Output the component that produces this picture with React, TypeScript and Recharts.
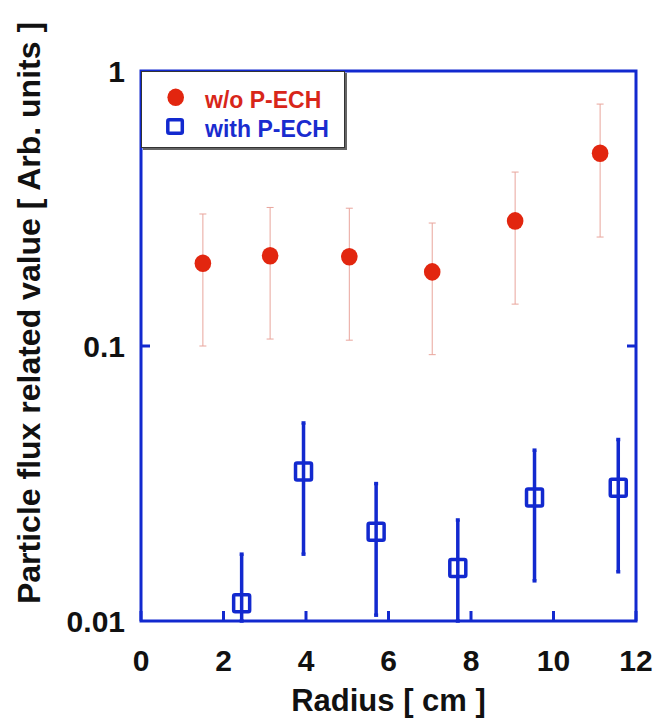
import React from 'react';
import { ScatterChart, Scatter, XAxis, YAxis, ErrorBar, ReferenceArea, Legend } from 'recharts';

// w/o P-ECH (red dots)
const radiusWithout = [1.5, 3.13, 5.05, 7.06, 9.07, 11.13];
const fluxWithout = [0.2, 0.213, 0.211, 0.186, 0.285, 0.502];
const lowWithout = [0.1, 0.106, 0.105, 0.093, 0.142, 0.249];
const highWithout = [0.302, 0.319, 0.317, 0.28, 0.429, 0.758];

// with P-ECH (blue squares)
const radiusWith = [2.44, 3.94, 5.7, 7.68, 9.54, 11.57];
const fluxWith = [0.0116, 0.035, 0.0211, 0.0156, 0.0281, 0.0305];
const lowWith = [0.01, 0.0175, 0.0105, 0.01, 0.014, 0.0151];
const highWith = [0.0175, 0.0525, 0.0316, 0.0233, 0.0418, 0.0457];

const xTicks = [0, 2, 4, 6, 8, 10, 12];
const yTicks = [0.01, 0.1, 1];

const BLUE = '#1229cf';
const RED = '#e2260f';
const RED_BAR = '#e9a59c';
const FONT = '"Liberation Sans", Arial, Helvetica, sans-serif';

const toRows = (rs: number[], vs: number[], lo: number[], hi: number[]) =>
  rs.map((r, i) => ({ r, v: vs[i], err: [vs[i] - lo[i], hi[i] - vs[i]] }));

const withoutData = toRows(radiusWithout, fluxWithout, lowWithout, highWithout);
const withData = toRows(radiusWith, fluxWith, lowWith, highWith);

// inward tick marks + label under the axis
function XTick({ x, y, payload }: any) {
  return (
    <g>
      <line x1={x} y1={y} x2={x} y2={y - 10} stroke={BLUE} strokeWidth={3} />
      <text x={x} y={y + 50} textAnchor="middle" fontFamily={FONT} fontWeight="bold" fontSize={30} fill="#111">
        {payload.value}
      </text>
    </g>
  );
}

function YTickLeft({ x, y, payload }: any) {
  return (
    <g>
      {payload.value === 0.1 && <line x1={x} y1={y} x2={x + 9} y2={y} stroke={BLUE} strokeWidth={3} />}
      <text x={x - 16} y={y} dy="0.36em" textAnchor="end" fontFamily={FONT} fontWeight="bold" fontSize={30} fill="#111">
        {payload.value}
      </text>
    </g>
  );
}

function YTickRight({ x, y, payload }: any) {
  if (payload.value !== 0.1) return <g />;
  return <line x1={x} y1={y} x2={x - 9} y2={y} stroke={BLUE} strokeWidth={3} />;
}

function XTitle({ viewBox }: any) {
  const { x, y, width } = viewBox;
  return (
    <text x={x + width / 2} y={y + 90} textAnchor="middle" fontFamily={FONT} fontWeight="bold" fontSize={31} fill="#111">
      Radius [ cm ]
    </text>
  );
}

function YTitle({ viewBox }: any) {
  const { x, y, width, height } = viewBox;
  const tx = x + width - 101;
  const ty = y + height / 2 - 33;
  return (
    <text x={tx} y={ty} transform={`rotate(-90 ${tx} ${ty})`} textAnchor="middle" fontFamily={FONT} fontWeight="bold" fontSize={32} fill="#111">
      Particle flux related value [ Arb. units ]
    </text>
  );
}

function LegendBox() {
  return (
    <div style={{ width: 204, height: 77, background: '#fff', border: '1px solid #333', boxShadow: '2px 2px 0 #666', boxSizing: 'border-box' }}>
      <svg width={202} height={75} style={{ display: 'block' }}>
        <ellipse cx={33.7} cy={25.3} rx={8.3} ry={8.7} fill={RED} />
        <text x={63} y={27.5} dy="0.36em" fontFamily={FONT} fontWeight="bold" fontSize={23} fill="#d8261a">
          w/o P-ECH
        </text>
        <rect x={25.8} y={47.8} width={14.5} height={13.5} rx={1.5} fill="none" stroke={BLUE} strokeWidth={3.5} />
        <text x={63} y={57} dy="0.36em" fontFamily={FONT} fontWeight="bold" fontSize={23} fill="#1a2ccf">
          with P-ECH
        </text>
      </svg>
    </div>
  );
}

const RedDot = (p: any) => <ellipse cx={p.cx} cy={p.cy} rx={8.3} ry={8.8} fill={RED} />;
const BlueSquare = (p: any) => (
  <rect x={p.cx - 8} y={p.cy - 8.5} width={16} height={17} rx={1.5} fill="none" stroke={BLUE} strokeWidth={3.5} />
);

export default function App() {
  return (
    <div style={{ position: 'absolute', left: 0, top: 0, background: '#fff' }}>
      <ScatterChart width={660} height={724} margin={{ top: 71, right: 23, bottom: 102, left: 140 }}>
        <ReferenceArea x1={0} x2={12} y1={0.01} y2={1} fill="none" stroke={BLUE} strokeWidth={3} ifOverflow="visible" />
        <XAxis
          type="number"
          dataKey="r"
          domain={[0, 12]}
          ticks={xTicks}
          height={1}
          tickSize={0}
          tickMargin={0}
          axisLine={false}
          tickLine={false}
          tick={<XTick />}
          label={<XTitle />}
          allowDataOverflow
        />
        <YAxis
          type="number"
          dataKey="v"
          scale="log"
          domain={[0.01, 1]}
          ticks={yTicks}
          width={1}
          tickSize={0}
          tickMargin={0}
          axisLine={false}
          tickLine={false}
          tick={<YTickLeft />}
          label={<YTitle />}
          allowDataOverflow
        />
        <YAxis
          yAxisId="right"
          orientation="right"
          type="number"
          scale="log"
          domain={[0.01, 1]}
          ticks={yTicks}
          width={1}
          tickSize={0}
          tickMargin={0}
          axisLine={false}
          tickLine={false}
          tick={<YTickRight />}
          allowDataOverflow
        />
        <Legend
          layout="vertical"
          align="center"
          verticalAlign="middle"
          content={<LegendBox />}
          wrapperStyle={{ left: 141, top: 71, width: 'auto', height: 'auto' }}
        />
        <Scatter name="w/o P-ECH" data={withoutData} shape={RedDot} isAnimationActive={false}>
          <ErrorBar dataKey="err" direction="y" width={3.5} stroke={RED_BAR} strokeWidth={1} isAnimationActive={false} />
        </Scatter>
        <Scatter name="with P-ECH" data={withData} shape={BlueSquare} isAnimationActive={false}>
          <ErrorBar dataKey="err" direction="y" width={2} stroke={BLUE} strokeWidth={3.5} isAnimationActive={false} />
        </Scatter>
      </ScatterChart>
    </div>
  );
}
